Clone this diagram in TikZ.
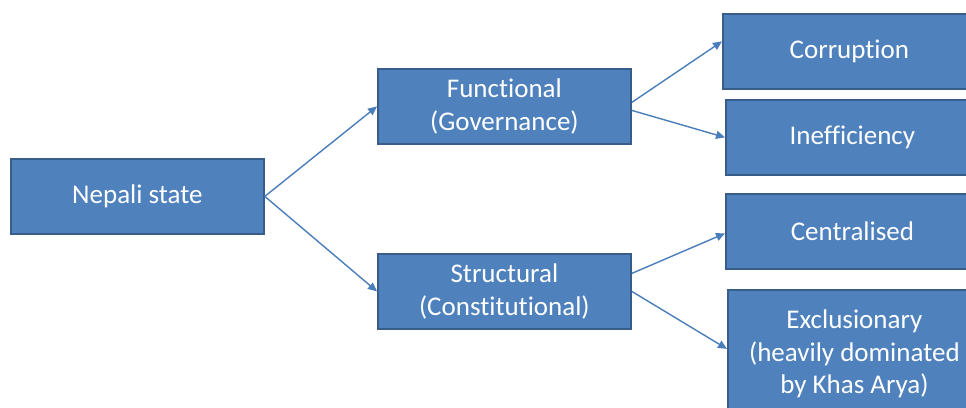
\documentclass[tikz,border=0pt]{standalone}
\usepackage{fontspec}
\setmainfont[Ligatures=NoCommon]{Carlito}
\usetikzlibrary{arrows.meta}
\definecolor{boxfill}{HTML}{4F81BD}
\definecolor{boxline}{HTML}{385D8A}
\definecolor{arrcol}{HTML}{4A7EBB}
\tikzset{
  box/.style={rectangle, fill=boxfill, draw=boxline, line width=1.8pt, text=white,
    font=\fontsize{27}{32.5}\selectfont, align=center, anchor=north west,
    minimum width=253pt, minimum height=75pt, inner sep=0pt},
  arr/.style={draw=arrcol, line width=1.4pt, -{Triangle[length=9pt,width=8pt]}}
}
\begin{document}
\begin{tikzpicture}[x=1pt,y=-1pt]
\useasboundingbox (0,0) rectangle (966,407);
\clip (0,0) rectangle (966,407);
\fill[white] (0,0) rectangle (966,407);
\node[box] (n) at (10,158) {Nepali state};
\node[box] (f) at (377,68) {Functional\\(Governance)};
\node[box] (s) at (377,253) {Structural\\(Constitutional)};
\node[box] (c) at (722,13) {Corruption};
\node[box] (i) at (725,99) {Inefficiency};
\node[box] (ce) at (725,193) {Centralised};
\node[box, minimum height=128pt] (ex) at (727,289) {Exclusionary\\(heavily dominated\\by Khas Arya)};
\draw[arr] (n.east) -- (f.west);
\draw[arr] (n.east) -- (s.west);
\draw[arr] ([yshift=4pt]f.east) -- ([yshift=10pt]c.west);
\draw[arr] ([yshift=-4pt]f.east) -- (i.west);
\draw[arr] ([yshift=18pt]s.east) -- ([yshift=-2pt]ce.west);
\draw[arr] (s.east) -- ([yshift=5pt]ex.west);
\end{tikzpicture}
\end{document}
